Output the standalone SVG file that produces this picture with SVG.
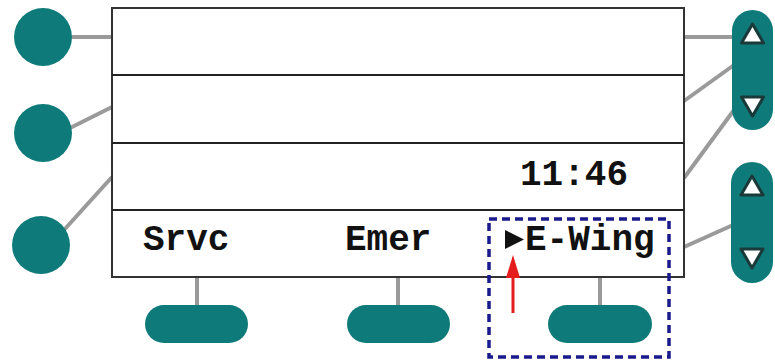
<svg xmlns="http://www.w3.org/2000/svg" width="775" height="362" viewBox="0 0 775 362">
<defs>
<style>
.btn{fill:#0f7a7a}
.con{stroke:#9a9a9a;stroke-width:4;fill:none}
.scr{fill:#fff;stroke:#333;stroke-width:2}
.div{stroke:#222;stroke-width:2}
.lbl{font-family:"Liberation Mono","Courier New",monospace;font-weight:bold;font-size:36px;fill:#111}
.tri{fill:#fff;stroke:#1a3a3a;stroke-width:3;stroke-linejoin:round}
</style>
</defs>
<rect width="775" height="362" fill="#fff"/>
<g id="connectors">
<line class="con" x1="72" y1="37" x2="112" y2="37"/>
<line class="con" x1="70" y1="128" x2="112" y2="107"/>
<line class="con" x1="64" y1="230" x2="112" y2="177"/>
<line class="con" x1="684" y1="37" x2="734" y2="37"/>
<line class="con" x1="684" y1="101" x2="734" y2="65"/>
<line class="con" x1="684" y1="178" x2="734" y2="110"/>
<line class="con" x1="684" y1="247" x2="733" y2="225"/>
<line class="con" x1="197" y1="277" x2="197" y2="307" stroke-width="5"/>
<line class="con" x1="398" y1="277" x2="398" y2="307" stroke-width="5"/>
<line class="con" x1="600" y1="277" x2="600" y2="307" stroke-width="5"/>
</g>
<g id="screen">
<rect class="scr" x="112" y="8" width="572" height="269"/>
<line class="div" x1="112" y1="75" x2="684" y2="75"/>
<line class="div" x1="112" y1="143" x2="684" y2="143"/>
<line class="div" x1="112" y1="210" x2="684" y2="210"/>
<text class="lbl" x="520" y="185">11:46</text>
<text class="lbl" x="143" y="250">Srvc</text>
<text class="lbl" x="345" y="250">Emer</text>
<path d="M505,230 L524,239.5 L505,249 Z" fill="#111"/>
<text class="lbl" x="525" y="250">E-Wing</text>
</g>
<g id="btn-left-1"><circle class="btn" cx="43" cy="37" r="29"/></g>
<g id="btn-left-2"><circle class="btn" cx="43" cy="133" r="29"/></g>
<g id="btn-left-3"><circle class="btn" cx="41" cy="245" r="29"/></g>
<g id="scroll-1">
<rect class="btn" x="732" y="10" width="41" height="120" rx="20.5"/>
<path class="tri" d="M752.5,24 L763.5,43 L741.5,43 Z"/>
<path class="tri" d="M741.5,97 L763.5,97 L752.5,116 Z"/>
</g>
<g id="scroll-2">
<rect class="btn" x="731" y="162" width="42" height="121" rx="21"/>
<path class="tri" d="M752,176 L763,195 L741,195 Z"/>
<path class="tri" d="M741,249 L763,249 L752,268 Z"/>
</g>
<g id="soft-1"><rect class="btn" x="145" y="305" width="103" height="38" rx="19"/></g>
<g id="soft-2"><rect class="btn" x="347" y="305" width="103" height="38" rx="19"/></g>
<g id="soft-3"><rect class="btn" x="548" y="305" width="104" height="38" rx="19"/></g>
<g id="highlight">
<rect x="489" y="219" width="180" height="138" fill="none" stroke="#1a1a8c" stroke-width="3.5" stroke-dasharray="8,5"/>
<line x1="513" y1="313" x2="513" y2="274" stroke="#e51c1c" stroke-width="3"/>
<path d="M506,278 L513,255 L520,278 Z" fill="#e51c1c"/>
</g>
</svg>
